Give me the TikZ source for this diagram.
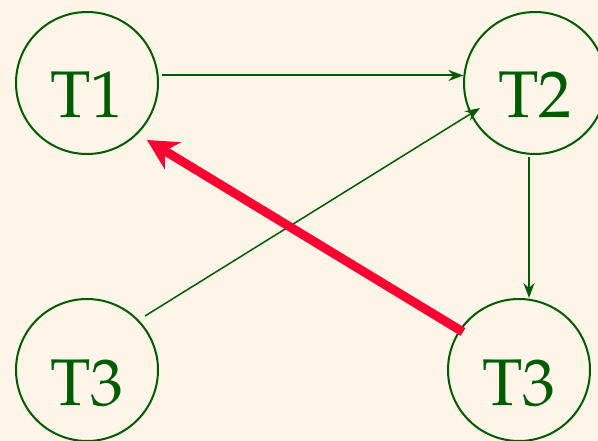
\documentclass[tikz,border=0pt]{standalone}
\usepackage[T1]{fontenc}
\usepackage{mathpazo}
\usetikzlibrary{arrows.meta,calc}
\definecolor{bgcol}{RGB}{254,245,233}
\definecolor{dgreen}{RGB}{0,90,0}
\definecolor{hotred}{RGB}{255,0,51}
\begin{document}
\begin{tikzpicture}[x=1pt,y=-1pt,
  tnode/.style={circle, draw=dgreen, line width=2pt, text=dgreen, minimum size=142pt,
    inner sep=0pt, text height=70pt, text depth=0pt, font=\fontsize{66}{66}\selectfont},
  garrow/.style={draw=dgreen, line width=2pt, -{Stealth[length=15pt,width=11pt,inset=5pt]}},
  redarrow/.style={draw=hotred, line width=9pt, -{Stealth[length=30pt,width=31pt,inset=9pt]}}]
\fill[bgcol] (0,0) rectangle (598,441);
\useasboundingbox (0,0) rectangle (598,441);
\node[tnode] (T1) at (87,83) {T1};
\node[tnode] (T2) at (535,83) {T2};
\node[tnode] (T3a) at (87,370) {T3};
\node[tnode] (T3b) at (519,370) {T3};
\draw[garrow, shorten <=3pt] (T1.6) -- (T2.174);
\draw[garrow, line width=1.5pt] ($(T3a)+(58,-54)$) -- ($(T2)+(-55,25)$);
\draw[garrow, shorten <=2pt] ([xshift=-6pt]T2.south) -- ([xshift=10pt]T3b.north);
\draw[redarrow] ($(T3b)+(-56,-38)$) -- ($(T1)+(60,57)$);
\end{tikzpicture}
\end{document}
